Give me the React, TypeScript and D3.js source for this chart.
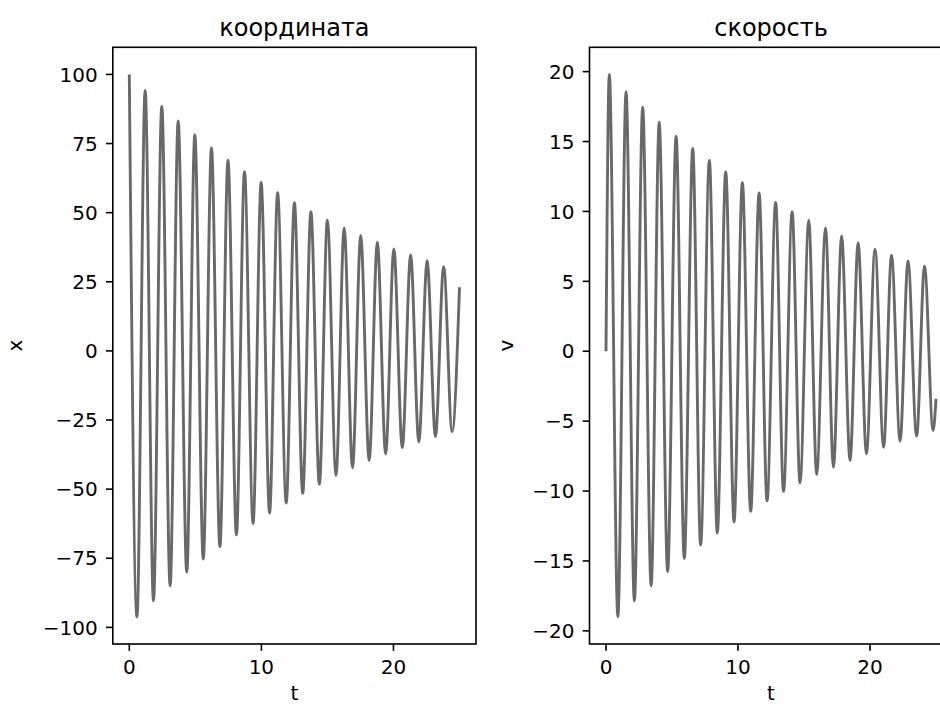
import { useEffect, useRef } from 'react';
import * as d3 from 'd3';

// left panel: x(t), turning points, plus the last sample at t = 25
const xTimes = [0, 0.58, 1.2, 1.83, 2.46, 3.09, 3.7, 4.35, 4.96, 5.6, 6.22, 6.86, 7.47, 8.11, 8.72, 9.37,
    9.98, 10.62, 11.23, 11.88, 12.5, 13.13, 13.75, 14.39, 15.0, 15.65, 16.27, 16.9, 17.52, 18.16, 18.78,
    19.41, 20.03, 20.67, 21.3, 21.92, 22.55, 23.18, 23.8, 24.44, 25];
const xValues = [100, -96.2, 94.2, -90.4, 88.5, -85.0, 83.2, -80.0, 78.2, -75.3, 73.4, -70.8, 69.0, -66.5,
    64.8, -62.4, 60.9, -58.6, 57.2, -55.0, 53.6, -51.5, 50.3, -48.2, 47.3, -45.1, 44.5, -42.3, 41.8, -39.7,
    39.3, -37.3, 36.9, -35.0, 34.7, -32.9, 32.6, -31.0, 30.5, -29.2, 23.0];

// right panel: v(t), same idea
const vTimes = [0, 0.25, 0.9, 1.52, 2.15, 2.78, 3.42, 4.03, 4.67, 5.31, 5.93, 6.57, 7.17, 7.83, 8.43,
    9.07, 9.7, 10.33, 10.96, 11.6, 12.2, 12.85, 13.45, 14.1, 14.7, 15.36, 15.96, 16.63, 17.23, 17.85,
    18.49, 19.1, 19.73, 20.38, 21.03, 21.63, 22.28, 22.88, 23.53, 24.13, 24.78, 25];
const vValues = [0, 19.8, -19.0, 18.57, -17.85, 17.45, -16.77, 16.39, -15.75, 15.39, -14.82, 14.5, -13.86,
    13.65, -13.0, 12.83, -12.21, 12.05, -11.45, 11.33, -10.7, 10.65, -10.02, 9.97, -9.42, 9.37, -8.82, 8.82,
    -8.3, 8.25, -7.82, 7.77, -7.34, 7.3, -6.87, 6.87, -6.43, 6.46, -6.08, 6.08, -5.67, -3.4];

const tTicks = [0, 10, 20];
const xTicks = [-100, -75, -50, -25, 0, 25, 50, 75, 100];
const vTicks = [-20, -15, -10, -5, 0, 5, 10, 15, 20];
const titles = ['координата', 'скорость'];
const yLabels = ['x', 'v'];

const WIDTH = 940, HEIGHT = 707;
const FONT = 'DejaVu Sans, sans-serif';
const TOP = 47.3, BOTTOM = 644;
const TICK = 6.8, PAD = 8.2;
const TICK_FONT = '20px';

function padded_extent(values) {
    const [lo, hi] = d3.extent(values);
    const m = (hi - lo) * 0.05;
    return [lo - m, hi + m];
}

function fmt(v) {
    return v < 0 ? '\u2212' + Math.abs(v) : String(v);
}

function draw_panel(svg, left, right, times, values, yTicks, title, yLabel, labelX) {
    const x = d3.scaleLinear().domain(padded_extent(times)).range([left, right]);
    const y = d3.scaleLinear().domain(padded_extent(values)).range([BOTTOM, TOP]);
    const g = svg.append('g');

    const line = d3.line()
        .x(d => x(d[0]))
        .y(d => y(d[1]))
        .curve(d3.curveMonotoneX);

    g.append('path')
        .attr('d', line(times.map((t, i) => [t, values[i]])))
        .attr('fill', 'none')
        .attr('stroke', '#696969')
        .attr('stroke-width', 2.9)
        .attr('stroke-linejoin', 'round');

    // frame
    g.append('rect')
        .attr('x', left).attr('y', TOP)
        .attr('width', right - left).attr('height', BOTTOM - TOP)
        .attr('fill', 'none').attr('stroke', '#000').attr('stroke-width', 1.6);

    // y ticks
    g.selectAll('.ytick').data(yTicks).enter().append('line')
        .attr('x1', left - TICK).attr('x2', left)
        .attr('y1', d => y(d)).attr('y2', d => y(d))
        .attr('stroke', '#000').attr('stroke-width', 1.6);
    g.selectAll('.ylab').data(yTicks).enter().append('text')
        .attr('x', left - TICK - PAD)
        .attr('y', d => y(d))
        .attr('dy', '0.36em')
        .attr('text-anchor', 'end')
        .style('font-family', FONT).style('font-size', TICK_FONT)
        .text(fmt);

    // t ticks
    g.selectAll('.xtick').data(tTicks).enter().append('line')
        .attr('x1', d => x(d)).attr('x2', d => x(d))
        .attr('y1', BOTTOM).attr('y2', BOTTOM + TICK)
        .attr('stroke', '#000').attr('stroke-width', 1.6);
    g.selectAll('.xlab').data(tTicks).enter().append('text')
        .attr('x', d => x(d))
        .attr('y', 674)
        .attr('text-anchor', 'middle')
        .style('font-family', FONT).style('font-size', TICK_FONT)
        .text(fmt);

    g.append('text')
        .attr('x', (left + right) / 2).attr('y', 700)
        .attr('text-anchor', 'middle')
        .style('font-family', FONT).style('font-size', TICK_FONT)
        .text('t');

    g.append('text')
        .attr('transform', `translate(${labelX}, ${(TOP + BOTTOM) / 2}) rotate(-90)`)
        .attr('text-anchor', 'middle')
        .style('font-family', FONT).style('font-size', TICK_FONT)
        .text(yLabel);

    g.append('text')
        .attr('x', (left + right) / 2).attr('y', 35.5)
        .attr('text-anchor', 'middle')
        .style('font-family', FONT).style('font-size', '24px')
        .text(title);
}

const App = () => {
    const ref = useRef(null);

    useEffect(() => {
        const svg = d3.select(ref.current);
        svg.selectAll('*').remove();
        svg.append('rect').attr('width', WIDTH).attr('height', HEIGHT).attr('fill', '#fff');
        draw_panel(svg, 112.8, 476, xTimes, xValues, xTicks, titles[0], yLabels[0], 22);
        draw_panel(svg, 589.5, 952.5, vTimes, vValues, vTicks, titles[1], yLabels[1], 513);
    }, []);

    return (
        <svg ref={ref} width={WIDTH} height={HEIGHT}
            style={{ position: 'absolute', left: 0, top: 0, display: 'block' }} />
    );
}

export default App;
